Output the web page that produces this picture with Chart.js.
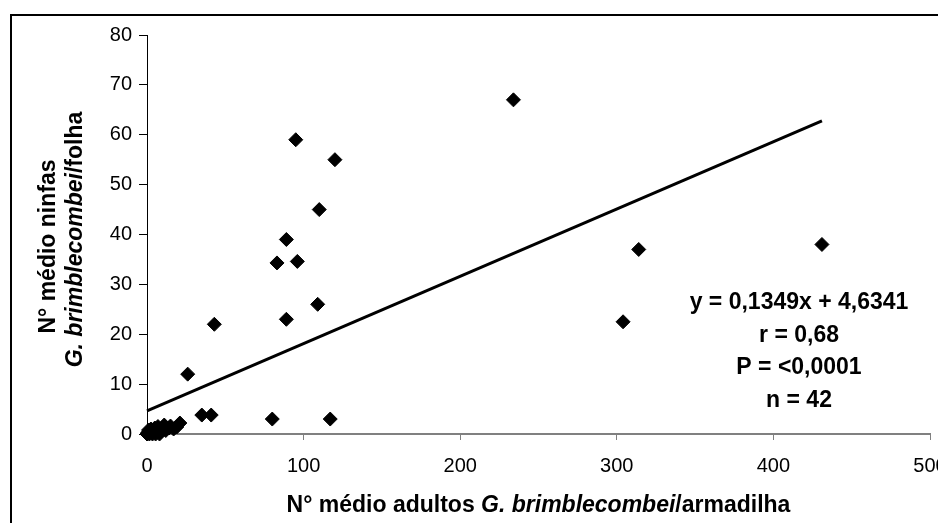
<!DOCTYPE html>
<html>
<head>
<meta charset="utf-8">
<script src="https://cdn.jsdelivr.net/npm/chart.js@4.4.0/dist/chart.umd.min.js"></script>
<style>
    html, body { margin: 0; padding: 0; background: #fff; overflow: hidden; }
    #wrap { position: relative; width: 938px; height: 523px; }
    #frame { position: absolute; left: 10px; top: 14px; width: 1000px; height: 600px; border: 2px solid #000; box-sizing: border-box; }
    #myChart { position: absolute; left: 0; top: 0; }
</style>
</head>
<body>
<div id="wrap">
    <div id="frame"></div>
    <canvas id="myChart" width="938" height="523"></canvas>
</div>
<script>
// adults per trap (x) vs nymphs per leaf (y)
let adults = [234, 95, 120, 110, 89, 83, 96, 109, 89, 43, 26, 35, 41, 80, 117, 304, 314, 431,
    0, 0.5, 1, 1.5, 2, 2.5, 3, 3.5, 4, 5, 5.5, 6, 7, 7.5, 8, 9, 10, 11, 12, 14, 15, 17, 19, 21];
let nymphs = [67, 59, 55, 45, 39, 34.3, 34.6, 26, 23, 22, 12, 3.8, 3.8, 3, 3, 22.5, 37, 38,
    0, 0.3, 0.8, 0, 0.5, 1, 0.2, 0, 0.6, 1.2, 0, 0.4, 1.5, 0.8, 0, 0.5, 1.3, 1.8, 0.7, 1.2, 1.6, 1, 1.4, 2.2];

let slope = 0.1349;
let intercept = 4.6341;
let trendX = [0, 431];

let xTicks = [0, 100, 200, 300, 400, 500];
let yTicks = [0, 10, 20, 30, 40, 50, 60, 70, 80];

let statLines = ['y = 0,1349x + 4,6341', 'r = 0,68', 'P = <0,0001', 'n = 42'];

const FONT = '"Liberation Sans", Arial, sans-serif';

let points = adults.map((a, i) => ({ x: a, y: nymphs[i] }));
let trend = trendX.map(x => ({ x: x, y: slope * x + intercept }));

// axis titles (mixed italic) and the regression text
let textPlugin = {
    id: 'texts',
    afterDraw: (chart) => {
        let ctx = chart.ctx;
        let area = chart.chartArea;
        ctx.save();
        ctx.fillStyle = '#000';
        ctx.textBaseline = 'middle';

        let drawParts = (parts, cx, cy) => {
            let total = 0;
            parts.forEach(p => { ctx.font = p[1]; total += ctx.measureText(p[0]).width; });
            let x = cx - total / 2;
            ctx.textAlign = 'left';
            parts.forEach(p => {
                ctx.font = p[1];
                ctx.fillText(p[0], x, cy);
                x += ctx.measureText(p[0]).width;
            });
        };

        let bold = 'bold 23px ' + FONT;
        let boldIt = 'italic bold 23px ' + FONT;

        // x title
        drawParts([['N° médio adultos ', bold], ['G. brimblecombei', boldIt], ['/armadilha', bold]],
            (area.left + area.right) / 2, 506);

        // y title, two lines rotated
        ctx.save();
        ctx.translate(49, (area.top + area.bottom) / 2 + 12);
        ctx.rotate(-Math.PI / 2);
        drawParts([['N° médio ninfas', bold]], 0, 0);
        ctx.restore();
        ctx.save();
        ctx.translate(76, (area.top + area.bottom) / 2 + 5);
        ctx.rotate(-Math.PI / 2);
        drawParts([['G. brimblecombei', boldIt], ['/folha', bold]], 0, 0);
        ctx.restore();

        // regression stats
        ctx.font = 'bold 23px ' + FONT;
        ctx.textAlign = 'center';
        for (let i = 0; i < statLines.length; i++) {
            ctx.fillText(statLines[i], 799, 303 + i * 32.5);
        }
        ctx.restore();
    }
};

let ctx = document.getElementById('myChart').getContext('2d');
let myChart = new Chart(ctx, {
    type: 'scatter',
    data: {
        datasets: [{
            type: 'line',
            data: trend,
            borderColor: '#000',
            borderWidth: 3,
            pointRadius: 0,
            fill: false,
            clip: false
        }, {
            data: points,
            pointStyle: 'rectRot',
            pointRadius: 7,
            pointHoverRadius: 7,
            backgroundColor: '#000',
            borderColor: '#000',
            borderWidth: 1,
            clip: false
        }]
    },
    options: {
        responsive: false,
        animation: false,
        devicePixelRatio: 1,
        events: [],
        layout: { padding: { top: 35, right: 5, left: 0, bottom: 0 } },
        plugins: {
            legend: { display: false },
            tooltip: { enabled: false }
        },
        scales: {
            x: {
                type: 'linear',
                min: 0,
                max: 500,
                afterBuildTicks: (s) => { s.ticks = xTicks.map(v => ({ value: v })); },
                afterFit: (s) => {
                    s.height = 523 - 434;
                    s.paddingLeft = 0; s.paddingRight = 0;
                },
                ticks: {
                    color: '#000',
                    font: { family: FONT, size: 20 },
                    padding: 14,
                    maxRotation: 0,
                    autoSkip: false
                },
                grid: { drawOnChartArea: false, drawTicks: true, tickLength: 6, color: '#808080', lineWidth: 1 },
                border: { display: true, color: '#808080', width: 2 }
            },
            y: {
                min: 0,
                max: 80,
                afterBuildTicks: (s) => { s.ticks = yTicks.map(v => ({ value: v })); },
                afterFit: (s) => {
                    s.width = 147;
                    s.paddingTop = 0; s.paddingBottom = 0;
                },
                ticks: {
                    color: '#000',
                    font: { family: FONT, size: 20 },
                    padding: 7
                },
                grid: { drawOnChartArea: false, drawTicks: true, tickLength: 8, color: '#000', lineWidth: 1 },
                border: { display: true, color: '#000', width: 1 }
            }
        }
    },
    plugins: [textPlugin]
});
</script>
</body>
</html>
